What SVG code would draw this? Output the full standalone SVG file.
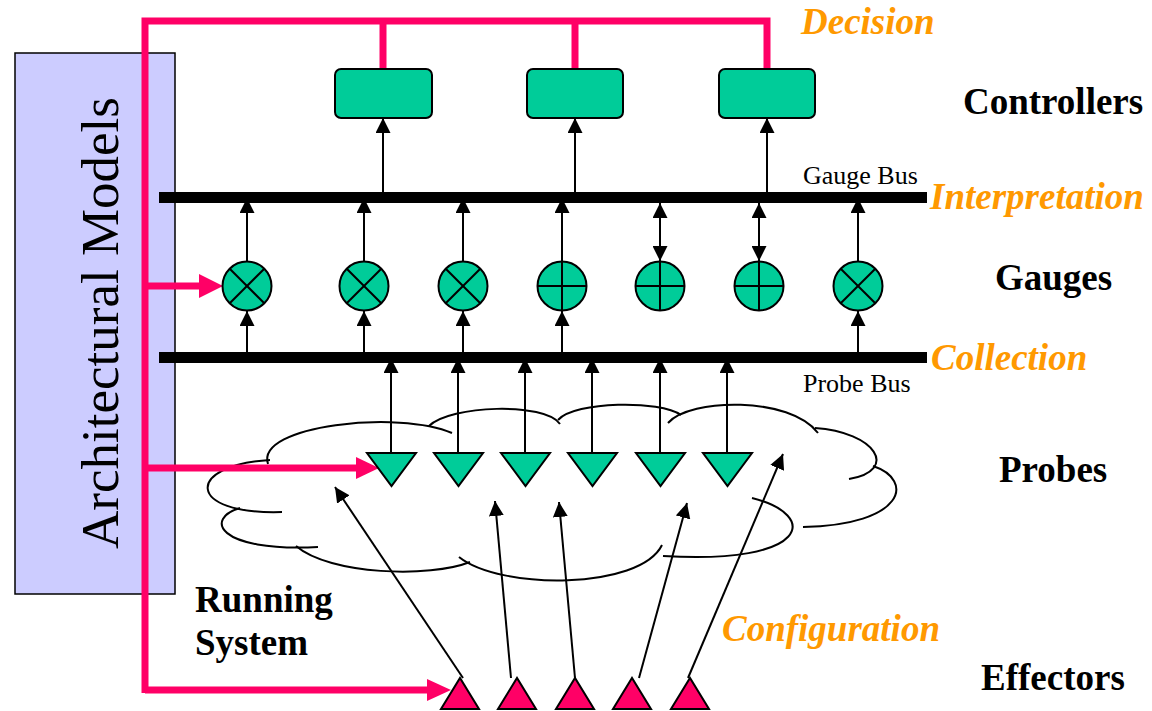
<svg xmlns="http://www.w3.org/2000/svg" width="1152" height="711" viewBox="0 0 1152 711">
  <style>
    .box { fill: #CCCCFF; stroke: #000; stroke-width: 1.5; }
    .ctl { fill: #00CC99; stroke: #000; stroke-width: 2; }
    .gauge circle { fill: #00CC99; stroke: #000; stroke-width: 2; }
    .gauge line { stroke: #000; stroke-width: 2; }
    .probe { fill: #00CC99; stroke: #000; stroke-width: 2; stroke-linejoin: miter; }
    .eff { fill: #FF0066; stroke: #000; stroke-width: 2; }
    .bus { fill: #000; }
    .pink { stroke: #FF0066; stroke-width: 7; fill: none; }
    .pinkhead { fill: #FF0066; }
    .arr { stroke: #000; stroke-width: 2; fill: none; marker-end: url(#ah); }
    .arr2 { stroke: #000; stroke-width: 2; fill: none; marker-start: url(#ahs); marker-end: url(#ah); }
    .cloud path { fill: none; stroke: #000; stroke-width: 2; }
    .layer { font-family: "Liberation Serif", "Times New Roman", serif; font-size: 37px; font-weight: bold; fill: #000; }
    .phase { font-family: "Liberation Serif", "Times New Roman", serif; font-size: 37px; font-weight: bold; font-style: italic; fill: #FF9900; }
    .busname { font-family: "Liberation Serif", "Times New Roman", serif; font-size: 26px; fill: #000; }
    .model { font-family: "Liberation Serif", "Times New Roman", serif; font-size: 53px; fill: #000; }
  </style>
  <defs>
    <marker id="ah" markerUnits="userSpaceOnUse" markerWidth="15" markerHeight="15" refX="15" refY="7.5" orient="auto">
      <path d="M0,0 L15,7.5 L0,15 z" fill="#000"/>
    </marker>
    <marker id="ahs" markerUnits="userSpaceOnUse" markerWidth="15" markerHeight="15" refX="0" refY="7.5" orient="auto">
      <path d="M15,0 L0,7.5 L15,15 z" fill="#000"/>
    </marker>
  </defs>

  <rect width="1152" height="711" fill="#fff"/>

  <!-- architectural model panel -->
  <g id="architectural-models">
    <rect class="box" x="15" y="53" width="160" height="541"/>
    <text class="model" transform="translate(118,323) rotate(-90)" text-anchor="middle">Architectural Models</text>
  </g>

  <!-- running system cloud -->
  <g id="running-system" class="cloud">
    <path d="M268,464 C255,425 400,410 452,433"/>
    <path d="M429,426 C450,405 545,402 560,424"/>
    <path d="M558,420 C575,401 660,400 681,415"/>
    <path d="M668,423 C690,398 790,396 818,433"/>
    <path d="M815,428 C875,432 900,470 849,479"/>
    <path d="M873,466 C915,480 905,525 803,527"/>
    <path d="M752,498 C820,515 810,565 663,556"/>
    <path d="M459,557 C500,590 640,590 662,545"/>
    <path d="M470,562 C430,578 330,575 296,546"/>
    <path d="M240,508 C205,518 215,552 318,547"/>
    <path d="M270,460 C185,465 185,515 282,512"/>
    <text class="layer" x="195" y="612">Running</text>
    <text class="layer" x="195" y="655">System</text>
  </g>

  <!-- buses -->
  <g id="gauge-bus">
    <rect class="bus" x="159" y="192" width="768" height="11"/>
    <text class="busname" x="803" y="184">Gauge Bus</text>
  </g>
  <g id="probe-bus">
    <rect class="bus" x="159" y="352" width="768" height="11"/>
    <text class="busname" x="803" y="392">Probe Bus</text>
  </g>

  <!-- connectors -->
  <g id="connectors">
    <!-- gauge bus to controllers -->
    <line class="arr" x1="383" y1="192" x2="383" y2="118"/>
    <line class="arr" x1="575" y1="192" x2="575" y2="118"/>
    <line class="arr" x1="767" y1="192" x2="767" y2="118"/>
    <!-- gauges to gauge bus -->
    <line class="arr" x1="247" y1="261" x2="247" y2="198"/>
    <line class="arr" x1="364" y1="261" x2="364" y2="198"/>
    <line class="arr" x1="463" y1="261" x2="463" y2="198"/>
    <line class="arr" x1="562" y1="261" x2="562" y2="198"/>
    <line class="arr2" x1="660" y1="203" x2="660" y2="261"/>
    <line class="arr2" x1="759" y1="203" x2="759" y2="261"/>
    <line class="arr" x1="858" y1="261" x2="858" y2="198"/>
    <!-- probe bus to gauges -->
    <line class="arr" x1="247" y1="352" x2="247" y2="311"/>
    <line class="arr" x1="364" y1="352" x2="364" y2="311"/>
    <line class="arr" x1="463" y1="352" x2="463" y2="311"/>
    <line class="arr" x1="562" y1="352" x2="562" y2="311"/>
    <line class="arr" x1="858" y1="352" x2="858" y2="311"/>
    <!-- probes to probe bus -->
    <line class="arr" x1="391" y1="453" x2="391" y2="358"/>
    <line class="arr" x1="458" y1="453" x2="458" y2="358"/>
    <line class="arr" x1="525" y1="453" x2="525" y2="358"/>
    <line class="arr" x1="592" y1="453" x2="592" y2="358"/>
    <line class="arr" x1="660" y1="453" x2="660" y2="358"/>
    <line class="arr" x1="727" y1="453" x2="727" y2="358"/>
    <!-- effectors into the running system -->
    <line class="arr" x1="463" y1="678" x2="335" y2="487"/>
    <line class="arr" x1="511" y1="678" x2="495" y2="501"/>
    <line class="arr" x1="575" y1="678" x2="559" y2="502"/>
    <line class="arr" x1="639" y1="678" x2="687" y2="503"/>
    <line class="arr" x1="688" y1="678" x2="783" y2="454"/>
    <!-- model links -->
    <path class="pink" d="M145,693 L145,21 L767,21 L767,69 M383,21 L383,69 M575,21 L575,69"/>
    <path class="pink" d="M145,286 L201,286 M145,468 L358,468 M145,690 L429,690"/>
    <polygon class="pinkhead" points="199,274 223,286 199,298"/>
    <polygon class="pinkhead" points="356,457 379,468 356,479"/>
    <polygon class="pinkhead" points="427,679 451,690 427,701"/>
  </g>

  <!-- controllers -->
  <g id="controller-1"><rect class="ctl" x="335" y="69" width="97" height="49" rx="6"/></g>
  <g id="controller-2"><rect class="ctl" x="527" y="69" width="96" height="49" rx="6"/></g>
  <g id="controller-3"><rect class="ctl" x="719" y="69" width="96" height="49" rx="6"/></g>

  <!-- gauges -->
  <g id="gauge-1" class="gauge"><circle cx="247" cy="286" r="24.5"/><line x1="229.7" y1="268.7" x2="264.3" y2="303.3"/><line x1="229.7" y1="303.3" x2="264.3" y2="268.7"/></g>
  <g id="gauge-2" class="gauge"><circle cx="364" cy="286" r="24.5"/><line x1="346.7" y1="268.7" x2="381.3" y2="303.3"/><line x1="346.7" y1="303.3" x2="381.3" y2="268.7"/></g>
  <g id="gauge-3" class="gauge"><circle cx="463" cy="286" r="24.5"/><line x1="445.7" y1="268.7" x2="480.3" y2="303.3"/><line x1="445.7" y1="303.3" x2="480.3" y2="268.7"/></g>
  <g id="gauge-4" class="gauge"><circle cx="562" cy="286" r="24.5"/><line x1="537.5" y1="286" x2="586.5" y2="286"/><line x1="562" y1="261.5" x2="562" y2="310.5"/></g>
  <g id="gauge-5" class="gauge"><circle cx="660" cy="286" r="24.5"/><line x1="635.5" y1="286" x2="684.5" y2="286"/><line x1="660" y1="261.5" x2="660" y2="310.5"/></g>
  <g id="gauge-6" class="gauge"><circle cx="759" cy="286" r="24.5"/><line x1="734.5" y1="286" x2="783.5" y2="286"/><line x1="759" y1="261.5" x2="759" y2="310.5"/></g>
  <g id="gauge-7" class="gauge"><circle cx="858" cy="286" r="24.5"/><line x1="840.7" y1="268.7" x2="875.3" y2="303.3"/><line x1="840.7" y1="303.3" x2="875.3" y2="268.7"/></g>

  <!-- probes -->
  <g id="probe-1"><polygon class="probe" points="367,453 416,453 391.5,486"/></g>
  <g id="probe-2"><polygon class="probe" points="434,453 483,453 458.5,486"/></g>
  <g id="probe-3"><polygon class="probe" points="501,453 550,453 525.5,486"/></g>
  <g id="probe-4"><polygon class="probe" points="568,453 617,453 592.5,486"/></g>
  <g id="probe-5"><polygon class="probe" points="636,453 685,453 660.5,486"/></g>
  <g id="probe-6"><polygon class="probe" points="703,453 752,453 727.5,486"/></g>

  <!-- effectors -->
  <g id="effector-1"><polygon class="eff" points="441,709 479,709 460,678"/></g>
  <g id="effector-2"><polygon class="eff" points="498,709 536,709 517,678"/></g>
  <g id="effector-3"><polygon class="eff" points="556,709 594,709 575,678"/></g>
  <g id="effector-4"><polygon class="eff" points="613,709 651,709 632,678"/></g>
  <g id="effector-5"><polygon class="eff" points="671,709 709,709 690,678"/></g>

  <!-- layer names -->
  <g id="labels">
    <text class="phase" x="801" y="34">Decision</text>
    <text class="phase" x="930" y="209">Interpretation</text>
    <text class="phase" x="931" y="370">Collection</text>
    <text class="phase" x="722" y="641">Configuration</text>
    <text class="layer" x="963" y="114">Controllers</text>
    <text class="layer" x="995" y="290">Gauges</text>
    <text class="layer" x="999" y="482">Probes</text>
    <text class="layer" x="981" y="690">Effectors</text>
  </g>
</svg>
